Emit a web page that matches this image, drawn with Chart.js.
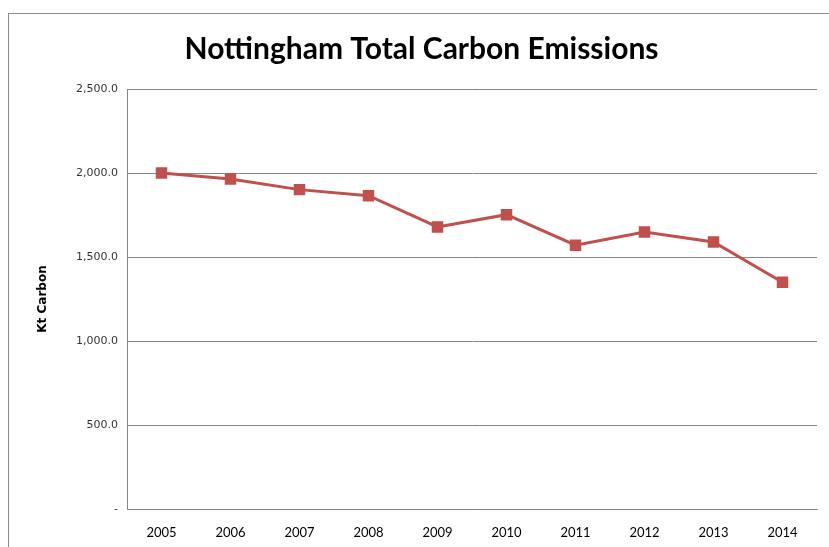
<!DOCTYPE html>
<html>
<head>
<meta charset="utf-8">
<script src="https://cdn.jsdelivr.net/npm/chart.js@4"></script>
<style>
  html, body { margin: 0; padding: 0; background: #fff; overflow: hidden; }
  #wrap { position: relative; width: 829px; height: 547px; }
  #frame { position: absolute; left: 8px; top: 13px; width: 900px; height: 600px; border: 1px solid #8c8c8c; box-sizing: border-box; }
  canvas { position: absolute; left: 0; top: 0; }
</style>
</head>
<body>
<div id="wrap">
  <div id="frame"></div>
  <canvas id="chart1" width="829" height="547"></canvas>
</div>
<script>
const years = ["2005", "2006", "2007", "2008", "2009", "2010", "2011", "2012", "2013", "2014"];
const emissions = [2000, 1964, 1901, 1865, 1679, 1752, 1570, 1649, 1589, 1350];

const ctx1 = document.getElementById("chart1").getContext("2d");

new Chart(ctx1, {
  type: "line",
  data: {
    labels: years,
    datasets: [
      {
        data: emissions,
        borderColor: "#C0504D",
        backgroundColor: "#C0504D",
        borderWidth: 3,
        pointStyle: "rect",
        pointRadius: 6,
        pointHoverRadius: 6,
        tension: 0,
      },
    ],
  },
  options: {
    responsive: false,
    animation: false,
    layout: { padding: { left: 26, right: 12, top: 0, bottom: 0 } },
    plugins: {
      legend: { display: false },
      tooltip: { enabled: false },
      title: {
        display: true,
        text: "Nottingham Total Carbon Emissions",
        color: "#000",
        font: { family: "Lato, sans-serif", size: 30, weight: "bold" },
        padding: { top: 31, bottom: 22 },
      },
    },
    scales: {
      x: {
        offset: true,
        grid: { display: false, drawTicks: false },
        border: { display: true, color: "#868686", width: 1 },
        ticks: {
          color: "#000",
          padding: 16,
          maxRotation: 0,
          font: { family: "Lato, sans-serif", size: 13 },
        },
        afterFit: function (scale) {
          scale.height = 38;
        },
      },
      y: {
        min: 0,
        max: 2500,
        ticks: {
          stepSize: 500,
          color: "#333",
          padding: 9,
          font: { family: "'DejaVu Sans', sans-serif", size: 11 },
          callback: function (value) {
            if (value === 0) return "-";
            return value.toLocaleString("en-GB", { minimumFractionDigits: 1, maximumFractionDigits: 1 });
          },
        },
        grid: { color: "#868686", drawTicks: false },
        border: { display: true, color: "#868686", width: 1 },
        title: {
          display: true,
          text: "Kt Carbon",
          color: "#000",
          font: { family: "'DejaVu Sans', sans-serif", size: 12, weight: "bold" },
          padding: { top: 10, bottom: 0 },
        },
        afterFit: function (scale) {
          scale.width = 101;
        },
      },
    },
  },
});
</script>
</body>
</html>
